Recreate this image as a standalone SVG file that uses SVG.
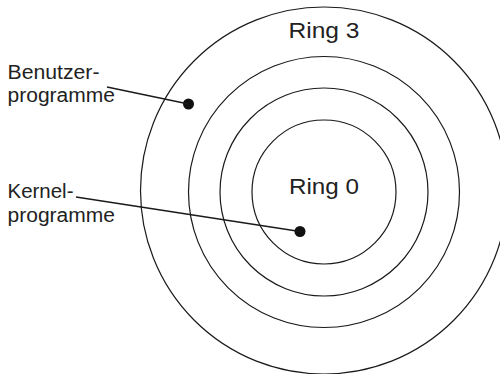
<svg xmlns="http://www.w3.org/2000/svg" width="500" height="374" viewBox="0 0 500 374">
  <style>
    .ring { fill: none; stroke: #1a1a1a; stroke-width: 1.2; }
    .lead { fill: none; stroke: #1a1a1a; stroke-width: 1.4; }
    .dot { fill: #111; }
    .label { font-family: "Liberation Sans", Arial, Helvetica, sans-serif; font-size: 20px; fill: #222; }
    .ringlabel { font-family: "Liberation Sans", Arial, Helvetica, sans-serif; font-size: 22.5px; fill: #222; text-anchor: middle; }
  </style>
  <rect width="500" height="374" fill="#fff"/>

  <!-- concentric privilege rings -->
  <g id="ring3">
    <circle class="ring" cx="324" cy="190.5" r="183.5"/>
    <text class="ringlabel" x="324" y="38" textLength="71" lengthAdjust="spacingAndGlyphs">Ring 3</text>
  </g>
  <g id="ring2">
    <circle class="ring" cx="324" cy="192" r="135.5"/>
  </g>
  <g id="ring1">
    <circle class="ring" cx="324" cy="192" r="104"/>
  </g>
  <g id="ring0">
    <circle class="ring" cx="324" cy="192" r="72"/>
    <text class="ringlabel" x="324" y="193.5" textLength="70" lengthAdjust="spacingAndGlyphs">Ring 0</text>
  </g>

  <!-- program markers -->
  <g id="user-dot">
    <circle class="dot" cx="188.5" cy="104" r="5.5"/>
  </g>
  <g id="kernel-dot">
    <circle class="dot" cx="300" cy="231.5" r="5.5"/>
  </g>

  <!-- labels -->
  <g id="user-label">
    <text class="label" x="7.5" y="78.5" textLength="92" lengthAdjust="spacingAndGlyphs">Benutzer-</text>
    <text class="label" x="7.5" y="102" textLength="107.5" lengthAdjust="spacingAndGlyphs">programme</text>
  </g>
  <g id="kernel-label">
    <text class="label" x="7.5" y="198" textLength="66" lengthAdjust="spacingAndGlyphs">Kernel-</text>
    <text class="label" x="7.5" y="221.5" textLength="107.5" lengthAdjust="spacingAndGlyphs">programme</text>
  </g>

  <!-- leader lines -->
  <g id="connectors">
    <line class="lead" x1="107" y1="87" x2="188.5" y2="104"/>
    <line class="lead" x1="76" y1="197" x2="300" y2="231.5"/>
  </g>
</svg>
